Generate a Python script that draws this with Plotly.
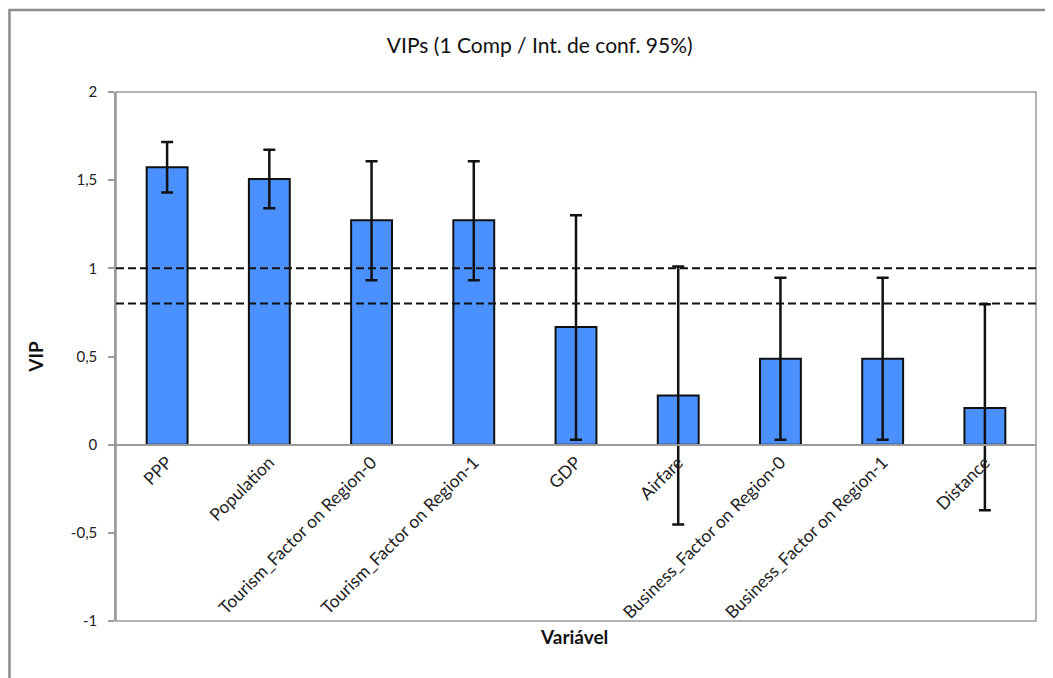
import plotly.graph_objects as go

categories = ["PPP", "Population", "Tourism_Factor on Region-0", "Tourism_Factor on Region-1",
              "GDP", "Airfare", "Business_Factor on Region-0", "Business_Factor on Region-1", "Distance"]
vip = [1.573, 1.507, 1.273, 1.273, 0.668, 0.279, 0.487, 0.487, 0.208]
ci_upper = [1.717, 1.673, 1.607, 1.607, 1.301, 1.010, 0.946, 0.946, 0.797]
ci_lower = [1.430, 1.341, 0.933, 0.933, 0.028, -0.453, 0.028, 0.028, -0.372]
thresholds = [1.0, 0.8]
y_ticks = [-1, -0.5, 0, 0.5, 1, 1.5, 2]
y_ticklabels = ["-1", "-0,5", "0", "0,5", "1", "1,5", "2"]

err_plus = [u - v for u, v in zip(ci_upper, vip)]
err_minus = [v - l for v, l in zip(vip, ci_lower)]

FONT = "Lato"
GRAY = "#9a9a9a"

fig = go.Figure()
fig.add_trace(go.Bar(
    x=list(range(len(categories))), y=vip,
    marker=dict(color="#4A90FF", line=dict(color="#111111", width=2)),
    error_y=dict(type="data", symmetric=False, array=err_plus, arrayminus=err_minus,
                 color="#111111", thickness=2.5, width=6),
    showlegend=False,
))

for t in thresholds:
    fig.add_shape(type="line", xref="paper", x0=0, x1=1, yref="y", y0=t, y1=t,
                  line=dict(color="#111111", width=2, dash="8px,4px"), layer="above")

# plot-area frame
fig.add_shape(type="rect", xref="paper", yref="paper", x0=0, x1=1, y0=0, y1=1,
              line=dict(color=GRAY, width=1.5), layer="below")
# outer chart border
fig.add_shape(type="rect", xref="paper", yref="paper", x0=-0.1158, x1=1.2, y0=-0.3, y1=1.155,
              line=dict(color="#8c8c8c", width=2.5), layer="below")

fig.update_layout(
    width=1053, height=678,
    margin=dict(l=108, r=25, t=84, b=65, autoexpand=False),
    paper_bgcolor="white", plot_bgcolor="white",
    separators=", ",
    bargap=0.6,
    font=dict(family=FONT, size=15, color="#222222"),
    title=dict(text="VIPs (1 Comp / Int. de conf. 95%)", x=0.505, xanchor="center",
               y=0.945, yanchor="middle", font=dict(family=FONT, size=21, color="#111111")),
    xaxis=dict(
        range=[-0.5, len(categories) - 0.5],
        tickmode="array", tickvals=list(range(len(categories))), ticktext=categories,
        tickangle=-45, showgrid=False, zeroline=False,
        showline=True, linecolor=GRAY, linewidth=1.5,
        anchor="free", position=1/3, ticks="", ticklen=4,
        tickfont=dict(family=FONT, size=17.5, color="#222222"),
        automargin=False,
    ),
    yaxis=dict(
        range=[-1, 2], tickmode="array", tickvals=y_ticks, ticktext=y_ticklabels,
        showgrid=False, zeroline=False, showline=True, linecolor=GRAY, linewidth=1.5,
        ticks="outside", ticklen=6, tickcolor=GRAY, tickwidth=1.5,
        ticklabelstandoff=8,
        tickfont=dict(family=FONT, size=15, color="#222222"),
        automargin=False,
        title=dict(text="<b>VIP</b>", font=dict(family=FONT, size=19, color="#111111"), standoff=22),
    ),
)

fig.add_annotation(text="<b>Variável</b>", xref="paper", yref="paper", x=0.498, y=-0.004,
                   xanchor="center", yanchor="top", showarrow=False,
                   font=dict(family=FONT, size=19, color="#111111"))

fig.write_html("out.html")
